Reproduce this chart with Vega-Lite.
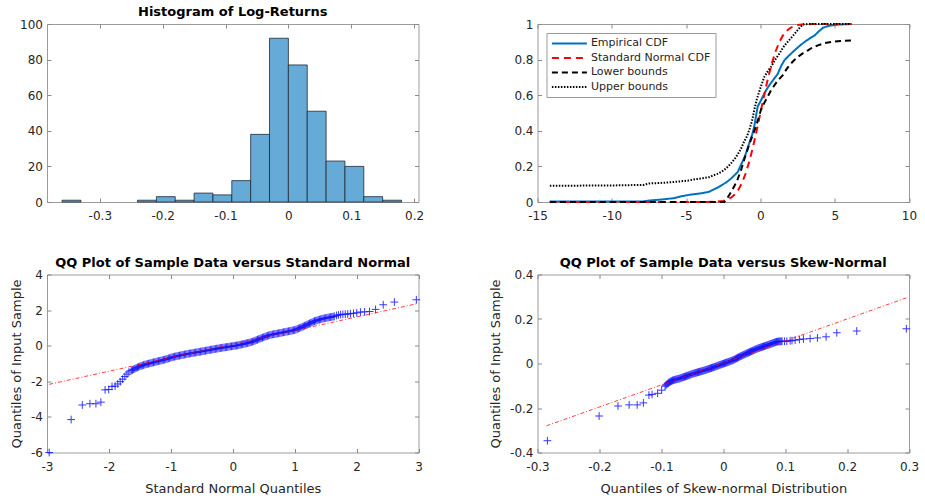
{
"$schema": "https://vega.github.io/schema/vega-lite/v6.json",
"background": "white",
"padding": {"left": 10, "top": 5, "right": 0, "bottom": 0},
"columns": 2,
"spacing": {"row": 72.5, "column": 118.5},
"bounds": "flush",
"resolve": {"scale": {"x": "independent", "y": "independent", "color": "independent", "strokeDash": "independent", "strokeWidth": "independent"}, "legend": {"color": "independent", "strokeDash": "independent", "strokeWidth": "independent"}},
"datasets": {
"hist": [
{"bin_start":-0.36,"bin_end":-0.33,"count":1},
{"bin_start":-0.24,"bin_end":-0.21,"count":1},
{"bin_start":-0.21,"bin_end":-0.18,"count":3},
{"bin_start":-0.18,"bin_end":-0.15,"count":1},
{"bin_start":-0.15,"bin_end":-0.12,"count":5},
{"bin_start":-0.12,"bin_end":-0.09,"count":4},
{"bin_start":-0.09,"bin_end":-0.06,"count":12},
{"bin_start":-0.06,"bin_end":-0.03,"count":38},
{"bin_start":-0.03,"bin_end":0,"count":92},
{"bin_start":0,"bin_end":0.03,"count":77},
{"bin_start":0.03,"bin_end":0.06,"count":51},
{"bin_start":0.06,"bin_end":0.09,"count":23},
{"bin_start":0.09,"bin_end":0.12,"count":20},
{"bin_start":0.12,"bin_end":0.15,"count":3},
{"bin_start":0.15,"bin_end":0.18,"count":1}
],
"cdf": [
{"series":"Empirical CDF","x":-14.17,"y":0.003},{"series":"Empirical CDF","x":-10,"y":0.003},{"series":"Empirical CDF","x":-7.9,"y":0.003},{"series":"Empirical CDF","x":-7.5,"y":0.008},{"series":"Empirical CDF","x":-6.5,"y":0.015},{"series":"Empirical CDF","x":-5.8,"y":0.022},{"series":"Empirical CDF","x":-5.27,"y":0.033},{"series":"Empirical CDF","x":-4.8,"y":0.04},{"series":"Empirical CDF","x":-4.37,"y":0.045},{"series":"Empirical CDF","x":-3.9,"y":0.05},{"series":"Empirical CDF","x":-3.47,"y":0.057},{"series":"Empirical CDF","x":-3.2,"y":0.068},{"series":"Empirical CDF","x":-2.9,"y":0.08},{"series":"Empirical CDF","x":-2.6,"y":0.095},{"series":"Empirical CDF","x":-2.3,"y":0.11},{"series":"Empirical CDF","x":-2.0,"y":0.13},{"series":"Empirical CDF","x":-1.75,"y":0.15},{"series":"Empirical CDF","x":-1.53,"y":0.168},{"series":"Empirical CDF","x":-1.3,"y":0.21},{"series":"Empirical CDF","x":-1.08,"y":0.25},{"series":"Empirical CDF","x":-0.9,"y":0.29},{"series":"Empirical CDF","x":-0.74,"y":0.333},{"series":"Empirical CDF","x":-0.55,"y":0.38},{"series":"Empirical CDF","x":-0.41,"y":0.425},{"series":"Empirical CDF","x":-0.3,"y":0.48},{"series":"Empirical CDF","x":-0.18,"y":0.537},{"series":"Empirical CDF","x":0,"y":0.565},{"series":"Empirical CDF","x":0.16,"y":0.592},{"series":"Empirical CDF","x":0.4,"y":0.63},{"series":"Empirical CDF","x":0.61,"y":0.657},{"series":"Empirical CDF","x":0.9,"y":0.69},{"series":"Empirical CDF","x":1.17,"y":0.72},{"series":"Empirical CDF","x":1.4,"y":0.765},{"series":"Empirical CDF","x":1.62,"y":0.797},{"series":"Empirical CDF","x":1.95,"y":0.825},{"series":"Empirical CDF","x":2.3,"y":0.852},{"series":"Empirical CDF","x":2.65,"y":0.878},{"series":"Empirical CDF","x":2.97,"y":0.899},{"series":"Empirical CDF","x":3.3,"y":0.918},{"series":"Empirical CDF","x":3.65,"y":0.936},{"series":"Empirical CDF","x":3.95,"y":0.96},{"series":"Empirical CDF","x":4.21,"y":0.979},{"series":"Empirical CDF","x":4.5,"y":0.987},{"series":"Empirical CDF","x":4.77,"y":0.992},{"series":"Empirical CDF","x":5.3,"y":0.997},{"series":"Empirical CDF","x":6.12,"y":1.0},
{"series":"Standard Normal CDF","x":-14.17,"y":0},{"series":"Standard Normal CDF","x":-4,"y":0.00003},{"series":"Standard Normal CDF","x":-3,"y":0.00135},{"series":"Standard Normal CDF","x":-2.5,"y":0.0062},{"series":"Standard Normal CDF","x":-2,"y":0.0228},{"series":"Standard Normal CDF","x":-1.75,"y":0.0401},{"series":"Standard Normal CDF","x":-1.5,"y":0.0668},{"series":"Standard Normal CDF","x":-1.25,"y":0.1056},{"series":"Standard Normal CDF","x":-1,"y":0.1587},{"series":"Standard Normal CDF","x":-0.75,"y":0.2266},{"series":"Standard Normal CDF","x":-0.5,"y":0.3085},{"series":"Standard Normal CDF","x":-0.25,"y":0.4013},{"series":"Standard Normal CDF","x":0,"y":0.5},{"series":"Standard Normal CDF","x":0.25,"y":0.5987},{"series":"Standard Normal CDF","x":0.5,"y":0.6915},{"series":"Standard Normal CDF","x":0.75,"y":0.7734},{"series":"Standard Normal CDF","x":1,"y":0.8413},{"series":"Standard Normal CDF","x":1.25,"y":0.8944},{"series":"Standard Normal CDF","x":1.5,"y":0.9332},{"series":"Standard Normal CDF","x":1.75,"y":0.9599},{"series":"Standard Normal CDF","x":2,"y":0.9772},{"series":"Standard Normal CDF","x":2.25,"y":0.9878},{"series":"Standard Normal CDF","x":2.5,"y":0.9938},{"series":"Standard Normal CDF","x":3,"y":0.99865},{"series":"Standard Normal CDF","x":3.5,"y":0.99977},{"series":"Standard Normal CDF","x":4,"y":1},{"series":"Standard Normal CDF","x":6.12,"y":1},
{"series":"Lower bounds","x":-14.17,"y":0},{"series":"Lower bounds","x":-2.43,"y":0},{"series":"Lower bounds","x":-2.2,"y":0.025},{"series":"Lower bounds","x":-1.99,"y":0.054},{"series":"Lower bounds","x":-1.75,"y":0.09},{"series":"Lower bounds","x":-1.53,"y":0.128},{"series":"Lower bounds","x":-1.3,"y":0.18},{"series":"Lower bounds","x":-1.08,"y":0.24},{"series":"Lower bounds","x":-0.85,"y":0.3},{"series":"Lower bounds","x":-0.63,"y":0.351},{"series":"Lower bounds","x":-0.45,"y":0.39},{"series":"Lower bounds","x":-0.3,"y":0.425},{"series":"Lower bounds","x":-0.13,"y":0.47},{"series":"Lower bounds","x":0.04,"y":0.518},{"series":"Lower bounds","x":0.25,"y":0.555},{"series":"Lower bounds","x":0.49,"y":0.592},{"series":"Lower bounds","x":0.7,"y":0.625},{"series":"Lower bounds","x":0.95,"y":0.657},{"series":"Lower bounds","x":1.2,"y":0.685},{"series":"Lower bounds","x":1.51,"y":0.713},{"series":"Lower bounds","x":1.75,"y":0.745},{"series":"Lower bounds","x":1.96,"y":0.769},{"series":"Lower bounds","x":2.25,"y":0.795},{"series":"Lower bounds","x":2.52,"y":0.815},{"series":"Lower bounds","x":2.85,"y":0.835},{"series":"Lower bounds","x":3.2,"y":0.852},{"series":"Lower bounds","x":3.5,"y":0.868},{"series":"Lower bounds","x":3.87,"y":0.88},{"series":"Lower bounds","x":4.3,"y":0.892},{"series":"Lower bounds","x":4.77,"y":0.899},{"series":"Lower bounds","x":5.4,"y":0.905},{"series":"Lower bounds","x":6.12,"y":0.908},
{"series":"Upper bounds","x":-14.17,"y":0.091},{"series":"Upper bounds","x":-10,"y":0.093},{"series":"Upper bounds","x":-7.87,"y":0.096},{"series":"Upper bounds","x":-7.5,"y":0.104},{"series":"Upper bounds","x":-6.5,"y":0.108},{"series":"Upper bounds","x":-5.5,"y":0.115},{"series":"Upper bounds","x":-4.9,"y":0.12},{"series":"Upper bounds","x":-4.37,"y":0.128},{"series":"Upper bounds","x":-3.9,"y":0.133},{"series":"Upper bounds","x":-3.47,"y":0.139},{"series":"Upper bounds","x":-2.9,"y":0.158},{"series":"Upper bounds","x":-2.6,"y":0.17},{"series":"Upper bounds","x":-2.3,"y":0.19},{"series":"Upper bounds","x":-2.0,"y":0.215},{"series":"Upper bounds","x":-1.75,"y":0.24},{"series":"Upper bounds","x":-1.53,"y":0.267},{"series":"Upper bounds","x":-1.3,"y":0.3},{"series":"Upper bounds","x":-1.08,"y":0.342},{"series":"Upper bounds","x":-0.9,"y":0.37},{"series":"Upper bounds","x":-0.74,"y":0.407},{"series":"Upper bounds","x":-0.55,"y":0.46},{"series":"Upper bounds","x":-0.41,"y":0.518},{"series":"Upper bounds","x":-0.25,"y":0.575},{"series":"Upper bounds","x":-0.08,"y":0.62},{"series":"Upper bounds","x":0.1,"y":0.665},{"series":"Upper bounds","x":0.27,"y":0.704},{"series":"Upper bounds","x":0.5,"y":0.735},{"series":"Upper bounds","x":0.72,"y":0.76},{"series":"Upper bounds","x":1.0,"y":0.8},{"series":"Upper bounds","x":1.28,"y":0.834},{"series":"Upper bounds","x":1.5,"y":0.865},{"series":"Upper bounds","x":1.73,"y":0.89},{"series":"Upper bounds","x":2.0,"y":0.915},{"series":"Upper bounds","x":2.3,"y":0.945},{"series":"Upper bounds","x":2.6,"y":0.975},{"series":"Upper bounds","x":2.86,"y":0.997},{"series":"Upper bounds","x":3.2,"y":1.0},{"series":"Upper bounds","x":6.12,"y":1.0}
],
"qq1": [
{"x":-2.965,"y":-6.0},{"x":-2.61,"y":-4.15},{"x":-2.43,"y":-3.33},{"x":-2.307,"y":-3.26},{"x":-2.21,"y":-3.26},{"x":-2.13,"y":-3.17},{"x":-2.062,"y":-2.48},{"x":-2.003,"y":-2.46},{"x":-1.95,"y":-2.29},{"x":-1.9,"y":-2.27},{"x":-1.857,"y":-2.15},{"x":-1.817,"y":-2.02},{"x":-1.779,"y":-1.88},{"x":-1.743,"y":-1.73},{"x":-1.709,"y":-1.6},{"x":-1.677,"y":-1.48},
{"x":-1.64,"y":-1.4},{"x":-1.6,"y":-1.327},{"x":-1.56,"y":-1.255},{"x":-1.52,"y":-1.187},{"x":-1.48,"y":-1.136},{"x":-1.44,"y":-1.085},{"x":-1.4,"y":-1.043},{"x":-1.36,"y":-1.008},{"x":-1.32,"y":-0.973},{"x":-1.28,"y":-0.938},{"x":-1.24,"y":-0.903},{"x":-1.2,"y":-0.868},{"x":-1.16,"y":-0.833},{"x":-1.12,"y":-0.798},{"x":-1.08,"y":-0.759},{"x":-1.04,"y":-0.716},{"x":-1.0,"y":-0.673},{"x":-0.96,"y":-0.631},{"x":-0.92,"y":-0.598},{"x":-0.88,"y":-0.569},{"x":-0.84,"y":-0.54},{"x":-0.8,"y":-0.511},{"x":-0.76,"y":-0.482},{"x":-0.72,"y":-0.454},{"x":-0.68,"y":-0.43},{"x":-0.64,"y":-0.405},{"x":-0.6,"y":-0.381},{"x":-0.56,"y":-0.357},{"x":-0.52,"y":-0.332},{"x":-0.48,"y":-0.307},{"x":-0.44,"y":-0.282},{"x":-0.4,"y":-0.257},{"x":-0.36,"y":-0.231},{"x":-0.32,"y":-0.206},{"x":-0.28,"y":-0.181},{"x":-0.24,"y":-0.155},{"x":-0.2,"y":-0.13},{"x":-0.16,"y":-0.109},{"x":-0.12,"y":-0.087},{"x":-0.08,"y":-0.066},{"x":-0.04,"y":-0.044},{"x":0.0,"y":-0.023},{"x":0.04,"y":-0.001},{"x":0.08,"y":0.02},{"x":0.12,"y":0.053},{"x":0.16,"y":0.085},{"x":0.2,"y":0.118},{"x":0.24,"y":0.151},{"x":0.28,"y":0.184},{"x":0.32,"y":0.228},{"x":0.36,"y":0.284},{"x":0.4,"y":0.34},{"x":0.44,"y":0.396},{"x":0.48,"y":0.452},{"x":0.52,"y":0.504},{"x":0.56,"y":0.552},{"x":0.6,"y":0.6},{"x":0.64,"y":0.628},{"x":0.68,"y":0.656},{"x":0.72,"y":0.683},{"x":0.76,"y":0.711},{"x":0.8,"y":0.739},{"x":0.84,"y":0.767},{"x":0.88,"y":0.795},{"x":0.92,"y":0.824},{"x":0.96,"y":0.852},{"x":1.0,"y":0.88},{"x":1.04,"y":0.936},{"x":1.08,"y":0.992},{"x":1.12,"y":1.053},{"x":1.16,"y":1.118},{"x":1.2,"y":1.184},{"x":1.24,"y":1.249},{"x":1.28,"y":1.315},{"x":1.32,"y":1.38},{"x":1.36,"y":1.423},{"x":1.4,"y":1.466},{"x":1.44,"y":1.509},{"x":1.48,"y":1.54},{"x":1.52,"y":1.567},{"x":1.56,"y":1.593},{"x":1.6,"y":1.62},{"x":1.64,"y":1.65},
{"x":-1.62,"y":-1.364},{"x":-1.58,"y":-1.291},{"x":-1.54,"y":-1.221},{"x":-1.5,"y":-1.162},{"x":-1.46,"y":-1.111},{"x":-1.42,"y":-1.064},{"x":-1.38,"y":-1.026},{"x":-1.34,"y":-0.991},{"x":-1.3,"y":-0.956},{"x":-1.26,"y":-0.921},{"x":-1.22,"y":-0.886},{"x":-1.18,"y":-0.851},{"x":-1.14,"y":-0.816},{"x":-1.1,"y":-0.779},{"x":-1.06,"y":-0.738},{"x":-1.02,"y":-0.695},{"x":-0.98,"y":-0.652},{"x":-0.94,"y":-0.615},{"x":-0.9,"y":-0.584},{"x":-0.86,"y":-0.555},{"x":-0.82,"y":-0.526},{"x":-0.78,"y":-0.497},{"x":-0.74,"y":-0.468},{"x":-0.7,"y":-0.442},{"x":-0.66,"y":-0.418},{"x":-0.62,"y":-0.393},{"x":-0.58,"y":-0.369},{"x":-0.54,"y":-0.345},{"x":-0.5,"y":-0.32},{"x":-0.46,"y":-0.295},{"x":-0.42,"y":-0.27},{"x":-0.38,"y":-0.244},{"x":-0.34,"y":-0.219},{"x":-0.3,"y":-0.194},{"x":-0.26,"y":-0.168},{"x":-0.22,"y":-0.143},{"x":-0.18,"y":-0.12},{"x":-0.14,"y":-0.098},{"x":-0.1,"y":-0.077},{"x":-0.06,"y":-0.055},{"x":-0.02,"y":-0.034},{"x":0.02,"y":-0.012},{"x":0.06,"y":0.01},{"x":0.1,"y":0.037},{"x":0.14,"y":0.069},{"x":0.18,"y":0.102},{"x":0.22,"y":0.135},{"x":0.26,"y":0.168},{"x":0.3,"y":0.206},{"x":0.34,"y":0.256},{"x":0.38,"y":0.312},{"x":0.42,"y":0.368},{"x":0.46,"y":0.424},{"x":0.5,"y":0.478},{"x":0.54,"y":0.528},{"x":0.58,"y":0.576},{"x":0.62,"y":0.614},{"x":0.66,"y":0.642},{"x":0.7,"y":0.67},{"x":0.74,"y":0.697},{"x":0.78,"y":0.725},{"x":0.82,"y":0.753},{"x":0.86,"y":0.781},{"x":0.9,"y":0.81},{"x":0.94,"y":0.838},{"x":0.98,"y":0.866},{"x":1.02,"y":0.908},{"x":1.06,"y":0.964},{"x":1.1,"y":1.023},{"x":1.14,"y":1.086},{"x":1.18,"y":1.151},{"x":1.22,"y":1.217},{"x":1.26,"y":1.282},{"x":1.3,"y":1.348},{"x":1.34,"y":1.402},{"x":1.38,"y":1.445},{"x":1.42,"y":1.488},{"x":1.46,"y":1.525},{"x":1.5,"y":1.554},{"x":1.54,"y":1.58},{"x":1.58,"y":1.607},{"x":1.62,"y":1.635},
{"x":1.677,"y":1.7},{"x":1.709,"y":1.73},{"x":1.743,"y":1.75},{"x":1.779,"y":1.76},{"x":1.817,"y":1.77},{"x":1.857,"y":1.78},{"x":1.9,"y":1.8},{"x":1.95,"y":1.82},{"x":2.003,"y":1.85},{"x":2.062,"y":1.89},{"x":2.13,"y":1.9},{"x":2.21,"y":1.92},{"x":2.307,"y":2.04},{"x":2.43,"y":2.3},{"x":2.61,"y":2.45},{"x":2.965,"y":2.58}
],
"qq1line": [{"x":-2.965,"y":-2.17},{"x":2.965,"y":2.35}],
"qq2": [
{"x":-0.284,"y":-0.347},{"x":-0.2005,"y":-0.236},{"x":-0.17,"y":-0.191},{"x":-0.152,"y":-0.186},{"x":-0.139,"y":-0.186},{"x":-0.129,"y":-0.177},{"x":-0.12,"y":-0.142},{"x":-0.115,"y":-0.139},{"x":-0.106,"y":-0.134},{"x":-0.0995,"y":-0.12},
{"x":-0.094,"y":-0.102},{"x":-0.091,"y":-0.093},{"x":-0.088,"y":-0.0855},{"x":-0.085,"y":-0.081},{"x":-0.082,"y":-0.0765},{"x":-0.079,"y":-0.0735},{"x":-0.076,"y":-0.0714},{"x":-0.073,"y":-0.0692},{"x":-0.07,"y":-0.067},{"x":-0.067,"y":-0.064},{"x":-0.064,"y":-0.061},{"x":-0.061,"y":-0.058},{"x":-0.058,"y":-0.055},{"x":-0.055,"y":-0.052},{"x":-0.052,"y":-0.049},{"x":-0.049,"y":-0.046},{"x":-0.046,"y":-0.0434},{"x":-0.043,"y":-0.041},{"x":-0.04,"y":-0.0385},{"x":-0.037,"y":-0.036},{"x":-0.034,"y":-0.0337},{"x":-0.031,"y":-0.0312},{"x":-0.028,"y":-0.0288},{"x":-0.025,"y":-0.026},{"x":-0.022,"y":-0.023},{"x":-0.019,"y":-0.02},{"x":-0.016,"y":-0.017},{"x":-0.013,"y":-0.014},{"x":-0.01,"y":-0.011},{"x":-0.007,"y":-0.008},{"x":-0.004,"y":-0.005},{"x":-0.001,"y":-0.002},{"x":0.002,"y":0.001},{"x":0.005,"y":0.004},{"x":0.008,"y":0.007},{"x":0.011,"y":0.01},{"x":0.014,"y":0.013},{"x":0.017,"y":0.0165},{"x":0.02,"y":0.021},{"x":0.023,"y":0.0255},{"x":0.026,"y":0.03},{"x":0.029,"y":0.034},{"x":0.032,"y":0.0379},{"x":0.035,"y":0.0417},{"x":0.038,"y":0.0456},{"x":0.041,"y":0.0494},{"x":0.044,"y":0.0532},{"x":0.047,"y":0.0571},{"x":0.05,"y":0.0609},{"x":0.053,"y":0.0647},{"x":0.056,"y":0.0679},{"x":0.059,"y":0.0708},{"x":0.062,"y":0.0737},{"x":0.065,"y":0.0766},{"x":0.068,"y":0.0795},{"x":0.071,"y":0.0824},{"x":0.074,"y":0.0853},{"x":0.077,"y":0.0882},{"x":0.08,"y":0.0913},{"x":0.083,"y":0.0943},{"x":0.086,"y":0.0974},{"x":0.089,"y":0.0988},{"x":0.092,"y":0.0995},
{"x":-0.0925,"y":-0.0975},{"x":-0.0895,"y":-0.0893},{"x":-0.0865,"y":-0.0833},{"x":-0.0835,"y":-0.0788},{"x":-0.0805,"y":-0.075},{"x":-0.0775,"y":-0.0725},{"x":-0.0745,"y":-0.0703},{"x":-0.0715,"y":-0.0681},{"x":-0.0685,"y":-0.0655},{"x":-0.0655,"y":-0.0625},{"x":-0.0625,"y":-0.0595},{"x":-0.0595,"y":-0.0565},{"x":-0.0565,"y":-0.0535},{"x":-0.0535,"y":-0.0505},{"x":-0.0505,"y":-0.0475},{"x":-0.0475,"y":-0.0447},{"x":-0.0445,"y":-0.0422},{"x":-0.0415,"y":-0.0398},{"x":-0.0385,"y":-0.0373},{"x":-0.0355,"y":-0.0349},{"x":-0.0325,"y":-0.0325},{"x":-0.0295,"y":-0.03},{"x":-0.0265,"y":-0.0274},{"x":-0.0235,"y":-0.0245},{"x":-0.0205,"y":-0.0215},{"x":-0.0175,"y":-0.0185},{"x":-0.0145,"y":-0.0155},{"x":-0.0115,"y":-0.0125},{"x":-0.0085,"y":-0.0095},{"x":-0.0055,"y":-0.0065},{"x":-0.0025,"y":-0.0035},{"x":0.0005,"y":-0.0005},{"x":0.0035,"y":0.0025},{"x":0.0065,"y":0.0055},{"x":0.0095,"y":0.0085},{"x":0.0125,"y":0.0115},{"x":0.0155,"y":0.0148},{"x":0.0185,"y":0.0188},{"x":0.0215,"y":0.0233},{"x":0.0245,"y":0.0278},{"x":0.0275,"y":0.032},{"x":0.0305,"y":0.036},{"x":0.0335,"y":0.0398},{"x":0.0365,"y":0.0437},{"x":0.0395,"y":0.0475},{"x":0.0425,"y":0.0513},{"x":0.0455,"y":0.0552},{"x":0.0485,"y":0.059},{"x":0.0515,"y":0.0628},{"x":0.0545,"y":0.0663},{"x":0.0575,"y":0.0694},{"x":0.0605,"y":0.0723},{"x":0.0635,"y":0.0752},{"x":0.0665,"y":0.0781},{"x":0.0695,"y":0.081},{"x":0.0725,"y":0.0839},{"x":0.0755,"y":0.0868},{"x":0.0785,"y":0.0898},{"x":0.0815,"y":0.0928},{"x":0.0845,"y":0.0959},{"x":0.0875,"y":0.0981},{"x":0.0905,"y":0.0992},{"x":0.0935,"y":0.0998},
{"x":0.095,"y":0.1},{"x":0.099,"y":0.1},{"x":0.1027,"y":0.1},{"x":0.108,"y":0.102},{"x":0.111,"y":0.103},{"x":0.1161,"y":0.105},{"x":0.123,"y":0.108},{"x":0.1295,"y":0.11},{"x":0.1403,"y":0.112},{"x":0.1521,"y":0.115},{"x":0.1661,"y":0.12},{"x":0.1834,"y":0.138},{"x":0.2156,"y":0.146},{"x":0.2957,"y":0.156}
],
"qq2line": [{"x":-0.2855,"y":-0.28},{"x":0.2957,"y":0.295}]
},
"concat": [
{
 "width": 371.5, "height": 178,
 "title": {"text": "Histogram of Log-Returns"},
 "data": {"name": "hist"},
 "layer": [
  {"mark": {"type": "rect", "fill": "#66AAD7", "stroke": "#1e2a36", "strokeWidth": 0.8},
   "encoding": {
    "x": {"field": "bin_start", "type": "quantitative", "scale": {"domain": [-0.384, 0.207], "nice": false, "zero": false}, "axis": {"values": [-0.3,-0.2,-0.1,0,0.1,0.2], "format": "~f", "labelExpr": "replace(datum.label, '\u2212', '-')", "title": null}},
    "x2": {"field": "bin_end"},
    "y": {"field": "count", "type": "quantitative", "scale": {"domain": [0,100], "nice": false}, "axis": {"values": [0,20,40,60,80,100], "format": "~f", "title": null}},
    "y2": {"datum": 0}
   }},
  {"mark": {"type": "point", "opacity": 0},
   "encoding": {
    "x": {"field": "bin_start", "type": "quantitative", "axis": {"orient": "top", "values": [-0.3,-0.2,-0.1,0,0.1,0.2], "labels": false, "title": null}},
    "y": {"field": "count", "type": "quantitative", "axis": {"orient": "right", "values": [0,20,40,60,80,100], "labels": false, "title": null}}
   }}
 ],
 "resolve": {"axis": {"x": "independent", "y": "independent"}}
},
{
 "width": 371.5, "height": 178,
 "data": {"name": "cdf"},
 "layer": [
  {"mark": {"type": "line"},
   "encoding": {
    "x": {"field": "x", "type": "quantitative", "scale": {"domain": [-15, 10], "nice": false, "zero": false}, "axis": {"values": [-15,-10,-5,0,5,10], "format": "~f", "labelExpr": "replace(datum.label, '\u2212', '-')", "title": null}},
    "y": {"field": "y", "type": "quantitative", "scale": {"domain": [0, 1], "nice": false}, "axis": {"values": [0,0.2,0.4,0.6,0.8,1], "format": "~f", "title": null}},
    "color": {"field": "series", "type": "ordinal", "scale": {"domain": ["Empirical CDF","Standard Normal CDF","Lower bounds","Upper bounds"], "range": ["#0072BD","#FF0000","#000000","#000000"]},
      "legend": {"title": null, "orient": "none", "legendX": 9, "legendY": 9, "symbolType": "M-3.5,0L3.5,0", "symbolSize": 100, "symbolOffset": 12.5, "labelOffset": 15.5, "labelFont": "DejaVu Sans", "labelFontSize": 11, "labelColor": "#262626", "rowPadding": 3.5, "padding": 4.4, "strokeColor": "#9b9b9b", "fillColor": "#ffffff", "labelLimit": 300}},
    "strokeDash": {"field": "series", "type": "ordinal", "scale": {"domain": ["Empirical CDF","Standard Normal CDF","Lower bounds","Upper bounds"], "range": [[1,0],[7,5],[6,4],[1.5,1.5]]}},
    "strokeWidth": {"field": "series", "type": "ordinal", "scale": {"domain": ["Empirical CDF","Standard Normal CDF","Lower bounds","Upper bounds"], "range": [2,2,1.5,1.2]}}
   }},
  {"mark": {"type": "point", "opacity": 0},
   "encoding": {
    "x": {"field": "x", "type": "quantitative", "axis": {"orient": "top", "values": [-15,-10,-5,0,5,10], "labels": false, "title": null}},
    "y": {"field": "y", "type": "quantitative", "axis": {"orient": "right", "values": [0,0.2,0.4,0.6,0.8,1], "labels": false, "title": null}}
   }}
 ],
 "resolve": {"axis": {"x": "independent", "y": "independent"}}
},
{
 "width": 371.5, "height": 178,
 "title": {"text": "QQ Plot of Sample Data versus Standard Normal"},
 "layer": [
  {"data": {"name": "qq1"},
   "mark": {"type": "point", "shape": "M-1,0L1,0M0,-1L0,1", "filled": false, "stroke": "#1515ff", "strokeWidth": 1, "size": 60, "opacity": 0.85},
   "encoding": {
    "x": {"field": "x", "type": "quantitative", "scale": {"domain": [-3, 3], "nice": false, "zero": false}, "axis": {"values": [-3,-2,-1,0,1,2,3], "format": "~f", "labelExpr": "replace(datum.label, '\u2212', '-')", "title": "Standard Normal Quantiles", "titleX": 185.75, "titleY": 39.5, "titleBaseline": "alphabetic"}},
    "y": {"field": "y", "type": "quantitative", "scale": {"domain": [-6, 4], "nice": false, "zero": false}, "axis": {"values": [-6,-4,-2,0,2,4], "format": "~f", "labelExpr": "replace(datum.label, '\u2212', '-')", "title": "Quantiles of Input Sample", "titleX": -26.2, "titleY": 89, "titleBaseline": "alphabetic", "titleAngle": 270}}
   }},
  {"data": {"name": "qq1line"},
   "mark": {"type": "line", "stroke": "#ff0000", "strokeWidth": 1, "strokeDash": [4,2,1,2], "opacity": 0.75},
   "encoding": {"x": {"field": "x", "type": "quantitative", "axis": null}, "y": {"field": "y", "type": "quantitative", "axis": null}}},
  {"data": {"name": "qq1"},
   "mark": {"type": "point", "opacity": 0},
   "encoding": {
    "x": {"field": "x", "type": "quantitative", "axis": {"orient": "top", "values": [-3,-2,-1,0,1,2,3], "labels": false, "title": null}},
    "y": {"field": "y", "type": "quantitative", "axis": {"orient": "right", "values": [-6,-4,-2,0,2,4], "labels": false, "title": null}}
   }}
 ],
 "resolve": {"axis": {"x": "independent", "y": "independent"}}
},
{
 "width": 371.5, "height": 178,
 "title": {"text": "QQ Plot of Sample Data versus Skew-Normal"},
 "layer": [
  {"data": {"name": "qq2"},
   "mark": {"type": "point", "shape": "M-1,0L1,0M0,-1L0,1", "filled": false, "stroke": "#1515ff", "strokeWidth": 1, "size": 60, "opacity": 0.85},
   "encoding": {
    "x": {"field": "x", "type": "quantitative", "scale": {"domain": [-0.3, 0.3], "nice": false, "zero": false}, "axis": {"values": [-0.3,-0.2,-0.1,0,0.1,0.2,0.3], "format": "~f", "labelExpr": "replace(datum.label, '\u2212', '-')", "title": "Quantiles of Skew-normal Distribution", "titleX": 185.75, "titleY": 39.5, "titleBaseline": "alphabetic"}},
    "y": {"field": "y", "type": "quantitative", "scale": {"domain": [-0.4, 0.4], "nice": false, "zero": false}, "axis": {"values": [-0.4,-0.2,0,0.2,0.4], "format": "~f", "labelExpr": "replace(datum.label, '\u2212', '-')", "title": "Quantiles of Input Sample", "titleX": -37.8, "titleY": 89, "titleBaseline": "alphabetic", "titleAngle": 270}}
   }},
  {"data": {"name": "qq2line"},
   "mark": {"type": "line", "stroke": "#ff0000", "strokeWidth": 1, "strokeDash": [4,2,1,2], "opacity": 0.75},
   "encoding": {"x": {"field": "x", "type": "quantitative", "axis": null}, "y": {"field": "y", "type": "quantitative", "axis": null}}},
  {"data": {"name": "qq2"},
   "mark": {"type": "point", "opacity": 0},
   "encoding": {
    "x": {"field": "x", "type": "quantitative", "axis": {"orient": "top", "values": [-0.3,-0.2,-0.1,0,0.1,0.2,0.3], "labels": false, "title": null}},
    "y": {"field": "y", "type": "quantitative", "axis": {"orient": "right", "values": [-0.4,-0.2,0,0.2,0.4], "labels": false, "title": null}}
   }}
 ],
 "resolve": {"axis": {"x": "independent", "y": "independent"}}
}
],
"config": {
 "font": "DejaVu Sans",
 "view": {"stroke": "#9b9b9b", "strokeWidth": 1},
 "axis": {"grid": false, "domain": false, "labelFlush": false, "tickColor": "#8a8a8a", "tickSize": -4, "tickWidth": 1, "labelFont": "DejaVu Sans", "labelFontSize": 12, "labelColor": "#262626", "titleFont": "DejaVu Sans", "titleFontSize": 13, "titleFontWeight": "normal", "titleColor": "#262626"},
 "axisX": {"labelPadding": 12.5},
 "axisY": {"labelPadding": 8.5},
 "title": {"font": "DejaVu Sans", "fontSize": 13, "fontWeight": "bold", "color": "#000000", "offset": -1, "baseline": "alphabetic", "anchor": "middle", "frame": "group"}
}
}
